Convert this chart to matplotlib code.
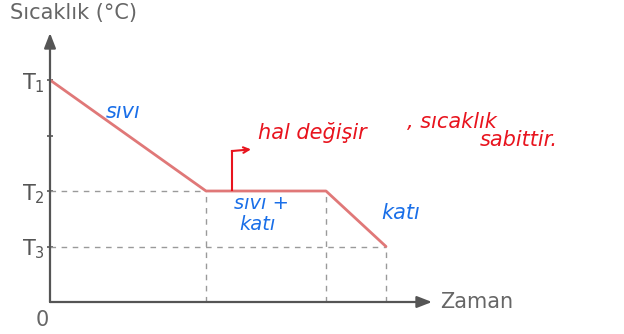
import matplotlib
matplotlib.use("Agg")
import matplotlib.pyplot as plt

# data (time units, temperature levels)
times = [0, 2.6, 4.6, 5.6]
temps = [4.0, 2.0, 2.0, 1.0]
ytick_vals = [4.0, 3.0, 2.0, 1.0]
ytick_labels = ["T$_1$", "", "T$_2$", "T$_3$"]

W, H = 624, 334
fig = plt.figure(figsize=(W / 100, H / 100), dpi=100)
x0, y0, x1, y1 = 50, 302, 432, 33
ax = fig.add_axes([x0 / W, (H - y0) / H, (x1 - x0) / W, (y0 - y1) / H])
ax.set_xlim(0, (x1 - x0) / 60)
ax.set_ylim(0, (y0 - y1) / 55.5)
for s in ax.spines.values():
    s.set_visible(False)

axc = "#555555"
# axes arrows
ax.annotate("", xy=(ax.get_xlim()[1], 0), xytext=(0, 0),
            arrowprops=dict(arrowstyle="-|>,head_length=0.9,head_width=0.35", color=axc, lw=1.6,
                            shrinkA=0, shrinkB=0), annotation_clip=False)
ax.annotate("", xy=(0, ax.get_ylim()[1]), xytext=(0, 0),
            arrowprops=dict(arrowstyle="-|>,head_length=0.9,head_width=0.35", color=axc, lw=1.6,
                            shrinkA=0, shrinkB=0), annotation_clip=False)

ax.set_xticks([])
ax.set_yticks(ytick_vals)
ax.set_yticklabels(ytick_labels, fontsize=15, color="#555555")
ax.tick_params(axis="y", length=5, width=1.2, color=axc, direction="inout", pad=1)

# dashed guides
dc = "#9a9a9a"
ax.plot([0, times[1]], [temps[1], temps[1]], ls=(0, (4, 4)), color=dc, lw=1)
ax.plot([0, times[3]], [temps[3], temps[3]], ls=(0, (4, 4)), color=dc, lw=1)
for t, v in zip(times[1:], temps[1:]):
    ax.plot([t, t], [0, v], ls=(0, (4, 4)), color=dc, lw=1)

# main curve
ax.plot(times, temps, color="#e07878", lw=2, solid_capstyle="round")

# axis labels
fig.text(10 / W, 1 - 13 / H, "Sıcaklık (°C)", fontsize=15, color="#666666", va="center", ha="left")
fig.text(440 / W, 1 - 302 / H, "Zaman", fontsize=15, color="#666666", va="center", ha="left")
fig.text(42 / W, 1 - 320 / H, "0", fontsize=15, color="#666666", va="center", ha="center")

# handwritten annotations
blue = "#1a6fe8"
red = "#e8141e"
ax.text(1.22, 3.42, "sıvı", color=blue, fontsize=15, ha="center", va="center", style="italic")
ax.text(3.53, 1.78, "sıvı +", color=blue, fontsize=14, ha="center", va="center", style="italic")
ax.text(3.45, 1.39, "katı", color=blue, fontsize=14, ha="center", va="center", style="italic")
ax.text(5.85, 1.6, "katı", color=blue, fontsize=15, ha="center", va="center", style="italic",
        clip_on=False)
ax.text(3.47, 3.06, "hal değişir", color=red, fontsize=15, ha="left", va="center", style="italic")
ax.text(5.95, 3.24, ", sıcaklık", color=red, fontsize=15, ha="left", va="center", style="italic",
        clip_on=False)
ax.text(7.17, 2.92, "sabittir.", color=red, fontsize=15, ha="left", va="center", style="italic",
        clip_on=False)
ax.plot([3.03, 3.03], [2.02, 2.72], color=red, lw=1.5)
ax.annotate("", xy=(3.35, 2.75), xytext=(3.03, 2.72),
            arrowprops=dict(arrowstyle="->", color=red, lw=1.5, shrinkA=0, shrinkB=0))

fig.savefig("out.png", dpi=100)
